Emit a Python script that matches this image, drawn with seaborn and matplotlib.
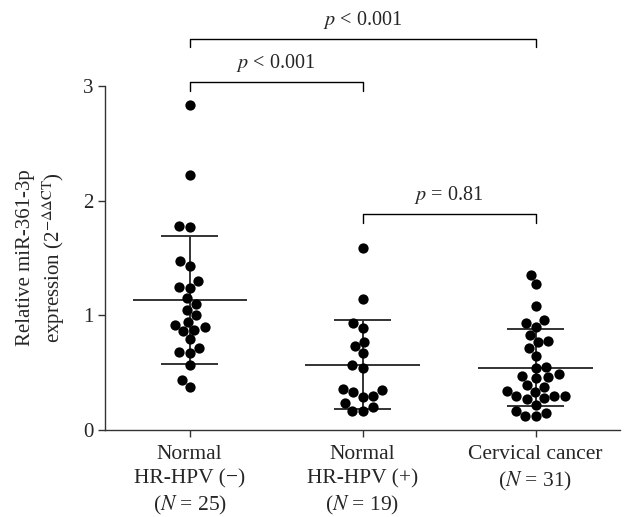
import numpy as np, pandas as pd
import matplotlib
matplotlib.use('Agg')
import matplotlib.pyplot as plt
import seaborn as sns

groups = ['Normal\nHR-HPV (\u2212)\n($N$ = 25)',
          'Normal\nHR-HPV (+)\n($N$ = 19)',
          'Cervical cancer\n($N$ = 31)']

neg_vals = [2.83, 2.22, 1.77, 1.78, 1.47, 1.43, 1.30, 1.24, 1.25, 1.15, 1.10, 1.05, 1.00,
            0.92, 0.87, 0.86, 0.90, 0.94, 0.79, 0.72, 0.67, 0.68, 0.57, 0.44, 0.38]
pos_vals = [1.59, 1.14, 0.93, 0.89, 0.77, 0.73, 0.67, 0.57, 0.54, 0.35, 0.36, 0.33,
            0.29, 0.30, 0.24, 0.20, 0.17, 0.17]
cc_vals = [1.35, 1.27, 1.08, 0.93, 0.96, 0.90, 0.83, 0.78, 0.77, 0.72, 0.65, 0.54, 0.55,
           0.47, 0.45, 0.46, 0.49, 0.38, 0.39, 0.33, 0.34, 0.30, 0.28, 0.27, 0.30, 0.30,
           0.22, 0.15, 0.12, 0.12, 0.17]

# brackets: (left group, right group, height, label)
brackets = [(0, 2, 3.41, '$p$ < 0.001'),
            (0, 1, 3.03, '$p$ < 0.001'),
            (1, 2, 1.88, '$p$ = 0.81')]

sns.set_style('ticks')
plt.rcParams['font.family'] = ['Liberation Serif', 'DejaVu Serif']
plt.rcParams['mathtext.fontset'] = 'stix'

df = pd.DataFrame({
    'group': [groups[0]] * len(neg_vals) + [groups[1]] * len(pos_vals) + [groups[2]] * len(cc_vals),
    'value': neg_vals + pos_vals + cc_vals,
})

fig = plt.figure(figsize=(6.24, 5.17), dpi=100)
ax = fig.add_axes([0.168, 0.168, 0.826, 0.666])

sns.swarmplot(data=df, x='group', y='value', order=groups, color='black',
              size=7.4, ax=ax, zorder=3)

line_c = '#333333'
for i, g in enumerate(groups):
    v = df.loc[df.group == g, 'value'].values
    m, s = v.mean(), v.std(ddof=1)
    ax.hlines(m, i - 0.33, i + 0.33, color=line_c, lw=1.4, zorder=2)
    ax.vlines(i, m - s, m + s, color=line_c, lw=1.4, zorder=2)
    ax.hlines([m - s, m + s], i - 0.165, i + 0.165, color=line_c, lw=1.4, zorder=2)

for a, b, h, lab in brackets:
    ax.plot([a, a, b, b], [h - 0.075, h, h, h - 0.075], color='black', lw=1.0,
            clip_on=False)
    ax.text((a + b) / 2, h + 0.07, lab, ha='center', va='bottom', fontsize=14.5,
            clip_on=False)

ax.set_xlim(-0.49, 2.49)
ax.set_ylim(0, 3)
ax.set_yticks([0, 1, 2, 3])
ax.set_xlabel('')
ax.set_ylabel('Relative miR-361-3p\nexpression (2$^{-\\Delta\\Delta\\mathrm{CT}}$)',
              fontsize=15, linespacing=1.25, labelpad=12)
ax.tick_params(axis='x', labelsize=15.5, length=5, width=1, color=line_c, pad=6)
ax.tick_params(axis='y', labelsize=15, length=5, width=1, color=line_c, pad=3)
for t in ax.get_xticklabels():
    t.set_linespacing(1.35)
for sp in ['left', 'bottom']:
    ax.spines[sp].set_color(line_c)
    ax.spines[sp].set_linewidth(1.0)
sns.despine(ax=ax)

fig.savefig('out.png', dpi=100)
